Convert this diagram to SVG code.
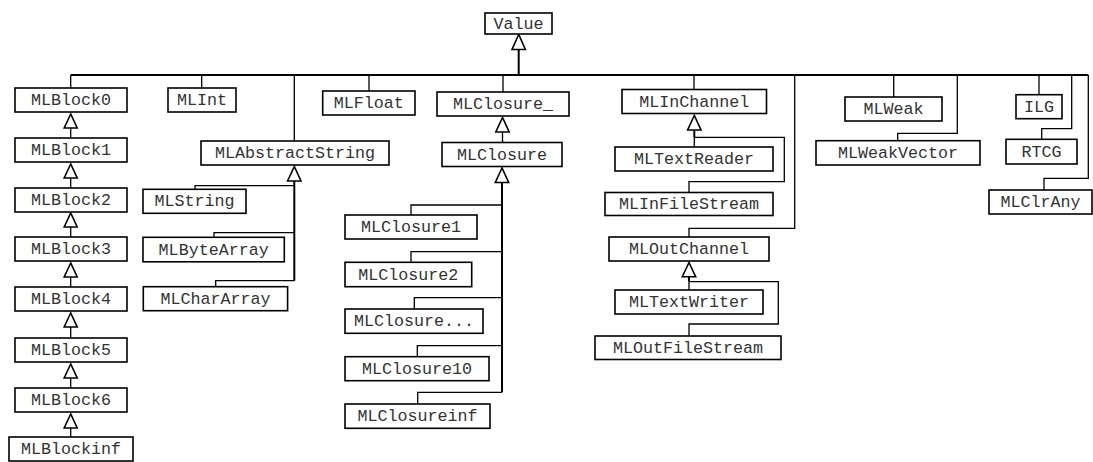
<svg xmlns="http://www.w3.org/2000/svg" width="1093" height="462" viewBox="0 0 1093 462">
  <style>
    .box { fill: #fff; stroke: #000; stroke-width: 1.6; }
    .lbl { font-family: "Liberation Mono", "Courier New", monospace; font-size: 16.7px; fill: #333; text-anchor: middle; }
    .edge { fill: none; stroke: #000; stroke-width: 1.3; }
    .trunk { fill: none; stroke: #000; stroke-width: 2; }
    .head { fill: #fff; stroke: #000; stroke-width: 1.6; stroke-linejoin: miter; }
  </style>
  <rect width="1093" height="462" fill="#fff"/>

  <!-- inheritance connectors -->
  <g id="connectors">
    <!-- Value children -->
    <path class="trunk" d="M518.7 50 V75 M70.7 75 H1088.3"/>
    <path class="edge" d="M70.7 75 V88"/>
    <path class="edge" d="M201.7 75 V88"/>
    <path class="edge" d="M294.3 75 V141"/>
    <path class="edge" d="M369 75 V91"/>
    <path class="edge" d="M503 75 V92"/>
    <path class="edge" d="M694 75 V89.5"/>
    <path class="edge" d="M794.7 75 V228.3 H689 V237"/>
    <path class="edge" d="M893.7 75 V97"/>
    <path class="edge" d="M957.3 75 V133.3 H897.7 V140.7"/>
    <path class="edge" d="M1039 75 V94.7"/>
    <path class="edge" d="M1071.7 75 V128.7 H1041.7 V139.3"/>
    <path class="edge" d="M1088.3 75 V178.3 H1044 V190"/>
    <polygon class="head" points="518.7,34.5 512,49.5 525.4,49.5"/>

    <!-- MLBlock chain -->
    <path class="edge" d="M70.7 128 V138 M70.7 178 V188 M70.7 227 V237 M70.7 277 V287 M70.7 327 V338 M70.7 378 V388 M70.7 427 V437"/>
    <polygon class="head" points="70.7,114 64.2,128 77.2,128"/>
    <polygon class="head" points="70.7,164 64.2,178 77.2,178"/>
    <polygon class="head" points="70.7,213 64.2,227 77.2,227"/>
    <polygon class="head" points="70.7,263 64.2,277 77.2,277"/>
    <polygon class="head" points="70.7,313 64.2,327 77.2,327"/>
    <polygon class="head" points="70.7,364 64.2,378 77.2,378"/>
    <polygon class="head" points="70.7,414 64.2,428 77.2,428"/>

    <!-- MLAbstractString children -->
    <path class="trunk" d="M294.3 181 V280.7"/>
    <path class="edge" d="M294.3 185.7 H195 V189.3"/>
    <path class="edge" d="M294.3 232.7 H214 V237.3"/>
    <path class="edge" d="M294.3 280.7 H215.7 V286.7"/>
    <polygon class="head" points="294.3,166.5 287.6,181 301,181"/>

    <!-- MLClosure_ to MLClosure -->
    <path class="edge" d="M502.5 132 V142.5"/>
    <polygon class="head" points="502.5,117.5 495.8,132 509.2,132"/>

    <!-- MLClosure children -->
    <path class="trunk" d="M502 182.5 V392.3"/>
    <path class="edge" d="M502 205 H411 V215"/>
    <path class="edge" d="M502 251.7 H411 V262.3"/>
    <path class="edge" d="M502 297.7 H414.3 V309"/>
    <path class="edge" d="M502 345.7 H417.3 V356.7"/>
    <path class="edge" d="M502 392.3 H417.7 V404"/>
    <polygon class="head" points="502,168 495.3,182.5 508.7,182.5"/>

    <!-- MLInChannel children -->
    <path class="trunk" d="M694.3 130 V137.3"/>
    <path class="edge" d="M694.3 137.3 V147"/>
    <path class="edge" d="M694.3 137.3 H784.3 V181.7 H689 V192.5"/>
    <polygon class="head" points="694.3,115.5 687.6,130 701,130"/>

    <!-- MLOutChannel children -->
    <path class="trunk" d="M689 276.7 V281.7"/>
    <path class="edge" d="M689 281.7 V290"/>
    <path class="edge" d="M689 281.7 H778.3 V324 H689 V336"/>
    <polygon class="head" points="689,262.5 682.3,276.7 695.7,276.7"/>
  </g>

  <!-- class nodes -->
  <g id="Value"><rect class="box" x="485" y="13" width="67" height="21"/><text class="lbl" x="518.5" y="28.5">Value</text></g>

  <g id="MLBlock0"><rect class="box" x="15" y="88" width="112" height="24"/><text class="lbl" x="71" y="105">MLBlock0</text></g>
  <g id="MLBlock1"><rect class="box" x="15" y="138" width="112" height="24"/><text class="lbl" x="71" y="155">MLBlock1</text></g>
  <g id="MLBlock2"><rect class="box" x="15" y="188" width="112" height="24"/><text class="lbl" x="71" y="205">MLBlock2</text></g>
  <g id="MLBlock3"><rect class="box" x="15" y="237" width="112" height="24"/><text class="lbl" x="71" y="254">MLBlock3</text></g>
  <g id="MLBlock4"><rect class="box" x="15" y="287" width="112" height="24"/><text class="lbl" x="71" y="304">MLBlock4</text></g>
  <g id="MLBlock5"><rect class="box" x="15" y="338" width="112" height="24"/><text class="lbl" x="71" y="355">MLBlock5</text></g>
  <g id="MLBlock6"><rect class="box" x="15" y="388" width="112" height="24"/><text class="lbl" x="71" y="405">MLBlock6</text></g>
  <g id="MLBlockinf"><rect class="box" x="9" y="437" width="124" height="24"/><text class="lbl" x="71" y="454">MLBlockinf</text></g>

  <g id="MLInt"><rect class="box" x="168" y="88" width="68" height="24"/><text class="lbl" x="202" y="105">MLInt</text></g>

  <g id="MLAbstractString"><rect class="box" x="201" y="141" width="188" height="24"/><text class="lbl" x="295" y="158">MLAbstractString</text></g>
  <g id="MLString"><rect class="box" x="143" y="189.3" width="103" height="24"/><text class="lbl" x="194.5" y="206.3">MLString</text></g>
  <g id="MLByteArray"><rect class="box" x="143" y="237.3" width="141.3" height="24.5"/><text class="lbl" x="213.7" y="254.5">MLByteArray</text></g>
  <g id="MLCharArray"><rect class="box" x="143.3" y="286.7" width="144.3" height="24"/><text class="lbl" x="215.5" y="303.7">MLCharArray</text></g>

  <g id="MLFloat"><rect class="box" x="322.7" y="91" width="92.3" height="24"/><text class="lbl" x="368.8" y="108">MLFloat</text></g>

  <g id="MLClosure_"><rect class="box" x="437" y="92" width="132" height="24"/><text class="lbl" x="503" y="109">MLClosure_</text></g>
  <g id="MLClosure"><rect class="box" x="442" y="142.5" width="120" height="24"/><text class="lbl" x="502" y="159.5">MLClosure</text></g>
  <g id="MLClosure1"><rect class="box" x="345" y="215" width="132" height="24"/><text class="lbl" x="411" y="232">MLClosure1</text></g>
  <g id="MLClosure2"><rect class="box" x="345" y="262.3" width="126.7" height="24.4"/><text class="lbl" x="408.3" y="279.5">MLClosure2</text></g>
  <g id="MLClosureEtc"><rect class="box" x="345" y="309" width="138" height="24.3"/><text class="lbl" x="414" y="326">MLClosure...</text></g>
  <g id="MLClosure10"><rect class="box" x="345" y="356.7" width="144" height="24"/><text class="lbl" x="417" y="373.7">MLClosure10</text></g>
  <g id="MLClosureinf"><rect class="box" x="345" y="404" width="145" height="24.3"/><text class="lbl" x="417.5" y="421">MLClosureinf</text></g>

  <g id="MLInChannel"><rect class="box" x="622" y="89.5" width="144.5" height="24"/><text class="lbl" x="694.3" y="106.5">MLInChannel</text></g>
  <g id="MLTextReader"><rect class="box" x="615" y="147" width="158" height="24"/><text class="lbl" x="694" y="164">MLTextReader</text></g>
  <g id="MLInFileStream"><rect class="box" x="605" y="192.5" width="168" height="23"/><text class="lbl" x="689" y="209">MLInFileStream</text></g>

  <g id="MLOutChannel"><rect class="box" x="609" y="237" width="160" height="24"/><text class="lbl" x="689" y="254">MLOutChannel</text></g>
  <g id="MLTextWriter"><rect class="box" x="615" y="290" width="148" height="24"/><text class="lbl" x="689" y="307">MLTextWriter</text></g>
  <g id="MLOutFileStream"><rect class="box" x="595" y="336" width="186" height="23.5"/><text class="lbl" x="688" y="353">MLOutFileStream</text></g>

  <g id="MLWeak"><rect class="box" x="845" y="97" width="97" height="24"/><text class="lbl" x="893.5" y="114">MLWeak</text></g>
  <g id="MLWeakVector"><rect class="box" x="816" y="140.7" width="164" height="24.3"/><text class="lbl" x="898" y="157.7">MLWeakVector</text></g>

  <g id="ILG"><rect class="box" x="1016" y="94.7" width="46" height="24"/><text class="lbl" x="1039" y="111.7">ILG</text></g>
  <g id="RTCG"><rect class="box" x="1006" y="139.3" width="71" height="24.7"/><text class="lbl" x="1041.5" y="156.5">RTCG</text></g>
  <g id="MLClrAny"><rect class="box" x="989" y="190" width="103" height="24"/><text class="lbl" x="1040.5" y="207">MLClrAny</text></g>
</svg>
